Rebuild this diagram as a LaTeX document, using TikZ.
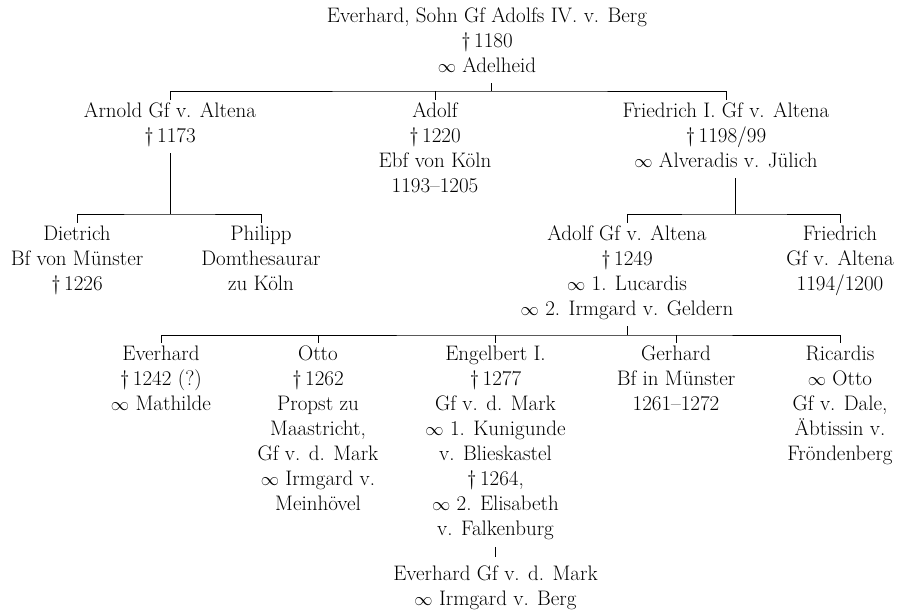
\documentclass[tikz,border=0pt]{standalone}
\usepackage{graphicx}
\newcommand\gstrut{\rule[-7.5pt]{0pt}{25pt}}
\newcommand\marr{\scalebox{0.88}{$\infty$}}
\tikzset{
  person/.style={align=center, inner xsep=0pt, inner ysep=3pt, anchor=north,
    font=\fontsize{21}{25}\selectfont,
    execute at begin node=\gstrut, execute at end node=\gstrut},
  link/.style={line width=0.9pt},
}
\begin{document}
\begin{tikzpicture}[x=1pt,y=-1pt]
\useasboundingbox (0,0) rectangle (907,614);
% generation 1
\node[person] (top) at (487,4.5) {Everhard, Sohn Gf Adolfs IV. v. Berg\\ \textdagger\,1180\\ \marr\ Adelheid};
% generation 2
\node[person] (arnold) at (170,99.5) {Arnold Gf v. Altena\\ \textdagger\,1173};
\node[person] (adolfA) at (435,99.5) {Adolf\\ \textdagger\,1220\\ Ebf von Köln\\ 1193--1205};
\node[person] (friedI) at (726,99.5) {Friedrich I. Gf v. Altena\\ \textdagger\,1198/99\\ \marr\ Alveradis v. Jülich};
% generation 3
\node[person] (dietrich) at (77,222.5) {Dietrich\\ Bf von Münster\\ \textdagger\,1226};
\node[person] (philipp) at (261,222.5) {Philipp\\ Domthesaurar\\ zu Köln};
\node[person] (adolfB) at (627,222.5) {Adolf Gf v. Altena\\ \textdagger\,1249\\ \marr\ 1. Lucardis\\ \marr\ 2. Irmgard v. Geldern};
\node[person] (friedB) at (840,222.5) {Friedrich\\ Gf v. Altena\\ 1194/1200};
% generation 4
\node[person] (everhardA) at (161,342.5) {Everhard\\ \textdagger\,1242 (?)\\ \marr\ Mathilde};
\node[person] (otto) at (318,342.5) {Otto\\ \textdagger\,1262\\ Propst zu\\ Maastricht,\\ Gf v. d. Mark\\ \marr\ Irmgard v.\\ Meinhövel};
\node[person] (engel) at (495.5,342.5) {Engelbert I.\\ \textdagger\,1277\\ Gf v. d. Mark\\ \marr\ 1. Kunigunde\\ v. Blieskastel\\ \textdagger\,1264,\\ \marr\ 2. Elisabeth\\ v. Falkenburg};
\node[person] (gerhard) at (676,342.5) {Gerhard\\ Bf in Münster\\ 1261--1272};
\node[person] (ricardis) at (840,342.5) {Ricardis\\ \marr\ Otto\\ Gf v. Dale,\\ Äbtissin v.\\ Fröndenberg};
% generation 5
\node[person] (everhardB) at (495.5,562.5) {Everhard Gf v. d. Mark\\ \marr\ Irmgard v. Berg};
% connectors
\coordinate (j1) at (491,91);
\draw[link] (top.south -| j1) -- (j1);
\draw[link] (arnold.north) |- (j1) -| (friedI.north);
\draw[link] (adolfA.north) -- (adolfA.north |- j1);
\coordinate (j2) at (170,214);
\draw[link] (arnold.south) -- (j2);
\draw[link] (dietrich.north) |- (j2) -| (philipp.north);
\coordinate (j3) at (735,214);
\draw[link] (friedI.south -| j3) -- (j3);
\draw[link] (adolfB.north) |- (j3) -| (friedB.north);
\coordinate (j4) at (627,335);
\draw[link] (adolfB.south -| j4) -- (j4);
\draw[link] (everhardA.north) |- (j4) -| (ricardis.north);
\foreach \n in {otto,engel,gerhard} \draw[link] (\n.north) -- (\n.north |- j4);
\draw[link, shorten <=1.5pt, shorten >=6pt] (engel.south) -- (everhardB.north);
\end{tikzpicture}
\end{document}
